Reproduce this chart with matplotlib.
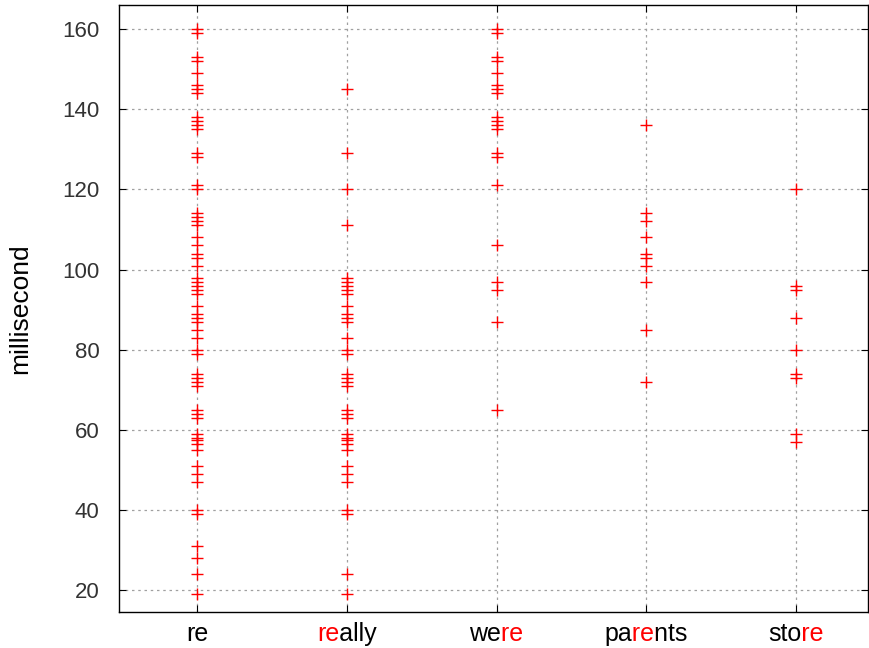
import matplotlib
matplotlib.use("Agg")
import matplotlib.pyplot as plt
import matplotlib.transforms as mtransforms

plt.rcParams['font.family'] = ['Liberation Sans', 'DejaVu Sans']

# category labels, split into (text, highlighted) pieces
words = [
    [("re", False)],
    [("re", True), ("ally", False)],
    [("we", False), ("re", True)],
    [("pa", False), ("re", True), ("nts", False)],
    [("sto", False), ("re", True)],
]

re_ms = [160, 159, 153, 152, 149, 146, 145, 144, 138, 137, 136, 135, 129, 128,
         121, 120, 114, 113, 112, 111, 108, 106, 104, 103, 101, 98, 97, 96, 95,
         94, 91, 89, 88, 87, 85, 83, 80, 79, 74, 73, 72, 71, 65, 64, 63, 59, 58,
         57.5, 56.5, 55, 51, 49, 47, 40, 39, 31, 28, 24, 19]
really_ms = [145, 129, 120, 111, 98, 97, 96, 95, 94, 91, 89, 88, 87, 83, 80, 79,
             74, 73, 72, 71, 65, 64, 63, 59, 58, 57.5, 56.5, 55, 51, 49, 47, 40,
             39, 24, 19]
were_ms = [160, 159, 153, 152, 149, 146, 145, 144, 138, 137, 136, 135, 129, 128,
           121, 106, 97, 95, 87, 65]
parents_ms = [136, 114, 112, 108, 104, 103, 101, 97, 85, 72]
store_ms = [120, 96, 95, 88, 80, 74, 73, 59, 57]

series = [re_ms, really_ms, were_ms, parents_ms, store_ms]
yticks = [20, 40, 60, 80, 100, 120, 140, 160]
LABEL_SIZE = 18

fig = plt.figure(figsize=(8.69, 6.48), dpi=100)
ax = fig.add_axes([0.137, 0.0556, 0.862, 0.9364])

for i, vals in enumerate(series):
    ax.plot([i] * len(vals), vals, linestyle='none', marker='+', color='red',
            markersize=8, markeredgewidth=1.0)

ax.set_xlim(-0.52, 4.48)
ax.set_ylim(14.5, 166)
ax.set_yticks(yticks)
ax.set_xticks(range(len(words)))
ax.set_xticklabels([])
ax.tick_params(direction='in', top=True, right=True, length=5)
ax.tick_params(axis='y', labelsize=16, labelcolor='#333333', pad=14)
ax.grid(True, color='#a0a0a0', linestyle=(0, (2, 3)), linewidth=0.9)
for s in ax.spines.values():
    s.set_linewidth(1.0)
ax.set_ylabel("millisecond", fontsize=19, labelpad=22)


def ink_width(txt, renderer):
    t = fig.text(0, 0, txt, fontsize=LABEL_SIZE)
    w = t.get_window_extent(renderer).width
    t.remove()
    return w


# multi-colour category labels: the whole word is drawn once per piece,
# each copy clipped to the horizontal span of its own piece
fig.canvas.draw()
renderer = fig.canvas.get_renderer()
trans = mtransforms.offset_copy(
    mtransforms.blended_transform_factory(ax.transData, ax.transAxes),
    fig=fig, y=-7, units='points')
for i, pieces in enumerate(words):
    full = "".join(p[0] for p in pieces)
    probe = ax.text(i, 0, full, transform=trans, fontsize=LABEL_SIZE,
                    ha='center', va='top')
    bb = probe.get_window_extent(renderer)
    probe.remove()
    prefix = ""
    left = bb.x0 - 5
    for k, (txt, hl) in enumerate(pieces):
        prefix += txt
        if k == len(pieces) - 1:
            right = bb.x1 + 5
        else:
            right = bb.x0 + ink_width(prefix, renderer) + 0.8
        t = ax.text(i, 0, full, transform=trans, fontsize=LABEL_SIZE,
                    ha='center', va='top', color='red' if hl else 'black',
                    clip_on=True)
        clip = mtransforms.Bbox.from_extents(left, bb.y0 - 5, right, bb.y1 + 5)
        t.set_clip_box(mtransforms.TransformedBbox(clip, mtransforms.IdentityTransform()))
        left = right

fig.savefig("out.png", dpi=100)
